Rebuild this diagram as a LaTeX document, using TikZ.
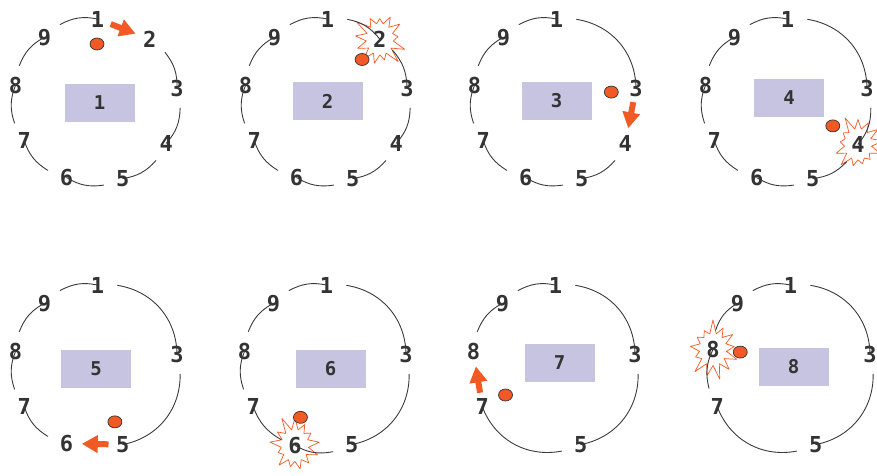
\documentclass[tikz,border=0pt]{standalone}
\usepackage{fontspec}
\newfontfamily\ringfont{DejaVu Sans Mono}
\definecolor{ringtext}{HTML}{333333}
\definecolor{ringedge}{HTML}{3A3A3A}
\definecolor{keyfill}{HTML}{C6C4E1}
\definecolor{joinorange}{HTML}{F15A24}
\usetikzlibrary{arrows.meta,shapes.symbols,shapes.geometric}

\begin{document}
\begin{tikzpicture}[
  x=1pt,y=1pt,
  line join=round,
  line cap=round,
  ringnum/.style={circle,minimum size=40pt,inner sep=0pt,font=\ringfont\bfseries\fontsize{22}{22}\selectfont,text=ringtext},
  burst/.style={starburst,starburst points=13,starburst point height=15pt,random starburst=#1,draw=joinorange,line width=0.7pt,fill=white,inner sep=3pt,font=\ringfont\bfseries\fontsize{22}{22}\selectfont,text=ringtext},
  ringarc/.style={draw=ringedge,line width=0.9pt},
  keybox/.style={rectangle,fill=keyfill,minimum width=70pt,minimum height=38pt,inner sep=0pt,font=\ringfont\bfseries\fontsize{19}{19}\selectfont,text=ringtext},
  token/.style={ellipse,fill=joinorange,draw=ringtext,line width=0.7pt,minimum width=14pt,minimum height=12pt,inner sep=0pt},
  hop/.style={draw=joinorange,line width=6pt,line cap=butt,-{Triangle[length=16pt,width=17pt]},shorten <=-6pt,shorten >=-5pt}
]
  \useasboundingbox (0,0) rectangle (877,475);

  \begin{scope}[shift={(96,374)},name prefix=p1-]
    \foreach \k in {1,...,9}
      \node[ringnum] (n\k) at ({89-40*(\k-1)}:82) {\k};
    \foreach \a/\b in {2/3,3/4,4/5,5/6,6/7,7/8,8/9,9/1}
      \draw[ringarc] (n\a) to[bend left=20] (n\b);
    \node[keybox] (key) at (3.5,-2) {1};
    \node[token] (tok) at (89:57) {};
    \draw[hop] (n1) -- (n2);
  \end{scope}

  \begin{scope}[shift={(326,374)},name prefix=p2-]
    \foreach \k in {1,3,4,5,6,7,8,9}
      \node[ringnum] (n\k) at ({89-40*(\k-1)}:82) {\k};
    \node[burst=3] (n2) at (49:82) {2};
    \foreach \a/\b in {1/2,2/3,3/4,4/5,5/6,6/7,7/8,8/9,9/1}
      \draw[ringarc] (n\a) to[bend left=20] (n\b);
    \node[keybox] (key) at (1.5,0) {2};
    \node[token] (tok) at (49:55) {};
  \end{scope}

  \begin{scope}[shift={(555,374)},name prefix=p3-]
    \foreach \k in {1,3,4,5,6,7,8,9}
      \node[ringnum] (n\k) at ({89-40*(\k-1)}:82) {\k};
    \foreach \a/\b/\t in {1/3/40,4/5/20,5/6/20,6/7/20,7/8/20,8/9/20,9/1/20}
      \draw[ringarc] (n\a) to[bend left=\t] (n\b);
    \node[keybox] (key) at (1.5,0) {3};
    \node[token] (tok) at (9:57) {};
    \draw[hop] (n3) -- (n4);
  \end{scope}

  \begin{scope}[shift={(786,374)},name prefix=p4-]
    \foreach \k in {1,3,5,6,7,8,9}
      \node[ringnum] (n\k) at ({89-40*(\k-1)}:82) {\k};
    \node[burst=5] (n4) at (-31:84) {4};
    \foreach \a/\b/\t in {1/3/40,3/4/20,4/5/20,5/6/20,6/7/20,7/8/20,8/9/20,9/1/20}
      \draw[ringarc] (n\a) to[bend left=\t] (n\b);
    \node[keybox] (key) at (3,3) {4};
    \node[token] (tok) at (-28:53) {};
  \end{scope}

  \begin{scope}[shift={(96,108)},name prefix=p5-]
    \foreach \k in {1,3,5,6,7,8,9}
      \node[ringnum] (n\k) at ({89-40*(\k-1)}:82) {\k};
    \foreach \a/\b/\t in {1/3/40,3/5/40,6/7/20,7/8/20,8/9/20,9/1/20}
      \draw[ringarc] (n\a) to[bend left=\t] (n\b);
    \node[keybox] (key) at (0,-2) {5};
    \node[token] (tok) at (-71:58) {};
    \draw[hop] (n5) -- (n6);
  \end{scope}

  \begin{scope}[shift={(325,108)},name prefix=p6-]
    \foreach \k in {1,3,5,7,8,9}
      \node[ringnum] (n\k) at ({89-40*(\k-1)}:82) {\k};
    \node[burst=11] (n6) at (-111:84) {6};
    \foreach \a/\b/\t in {1/3/40,3/5/40,5/6/20,6/7/20,7/8/20,8/9/20,9/1/20}
      \draw[ringarc] (n\a) to[bend left=\t] (n\b);
    \node[keybox] (key) at (5.5,-2) {6};
    \node[token] (tok) at (-116:56) {};
  \end{scope}

  \begin{scope}[shift={(554,108)},name prefix=p7-]
    \foreach \k in {1,3,5,7,8,9}
      \node[ringnum] (n\k) at ({89-40*(\k-1)}:82) {\k};
    \foreach \a/\b/\t in {1/3/40,3/5/40,5/7/40,8/9/20,9/1/20}
      \draw[ringarc] (n\a) to[bend left=\t] (n\b);
    \node[keybox] (key) at (5.5,4) {7};
    \node[token] (tok) at (-150:56) {};
    \draw[hop] (n7) -- (n8);
  \end{scope}

  \begin{scope}[shift={(789,108)},name prefix=p8-]
    \foreach \k in {1,3,5,7,9}
      \node[ringnum] (n\k) at ({89-40*(\k-1)}:82) {\k};
    \node[burst=7] (n8) at (167:78) {8};
    \foreach \a/\b/\t in {1/3/40,3/5/40,5/7/40,7/8/20,8/9/20,9/1/20}
      \draw[ringarc] (n\a) to[bend left=\t] (n\b);
    \node[keybox] (key) at (4.5,0) {8};
    \node[token] (tok) at (163:51) {};
  \end{scope}
\end{tikzpicture}
\end{document}
